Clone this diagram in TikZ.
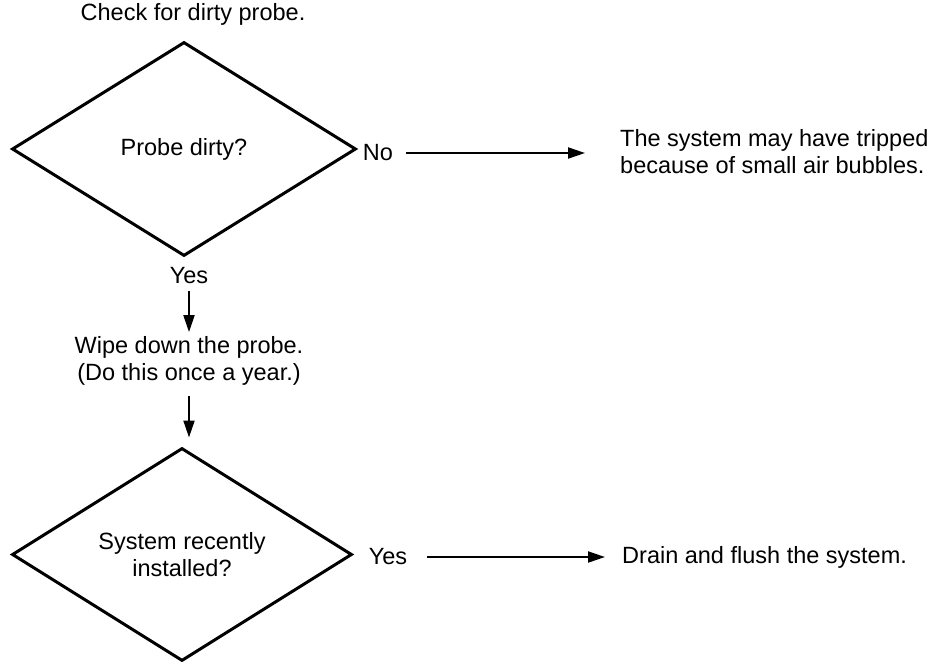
\documentclass[tikz,border=0pt]{standalone}
\usepackage{fontspec}
\setmainfont{Liberation Sans}
\usetikzlibrary{shapes.geometric,arrows.meta}

\begin{document}
\begin{tikzpicture}[x=1pt,y=-1pt,
  lbl/.style={inner sep=0pt,font=\fontsize{23.5}{27.5}\selectfont},
  decision/.style={diamond,draw,line width=3pt,inner sep=0pt,align=center,
    font=\fontsize{23.5}{27.5}\selectfont},
  flow/.style={line width=2pt,-{Triangle[length=17pt,width=11pt]}}]
  \useasboundingbox (0,0) rectangle (936,661);

  % first question
  \node[lbl] (check) at (193,14) {Check for dirty probe.};
  \node[decision,minimum width=344pt,minimum height=214pt] (dirty) at (184,149) {Probe dirty?};
  \node[lbl] (no) at (378,153) {No};
  \node[lbl,anchor=west,align=left] (bubbles) at (620,151.5)
    {The system may have tripped\\because of small air bubbles.};
  \node[lbl] (yes1) at (189,276) {Yes};

  % cleaning step
  \node[lbl,align=center] (wipe) at (189,361) {Wipe down the probe.\\(Do this once a year.)};

  % second question
  \node[decision,minimum width=340pt,minimum height=213pt] (recent) at (182,554.5)
    {System recently\\installed?};
  \node[lbl] (yes2) at (388,557) {Yes};
  \node[lbl,anchor=west] (drain) at (622,557) {Drain and flush the system.};

  % connectors
  \draw[flow,shorten <=13pt,shorten >=35pt] (no.east) -- (no.east -| bubbles.west);
  \draw[flow,shorten <=7pt,shorten >=4pt] (yes1.south) -- (wipe.north);
  \draw[flow,shorten <=10pt,shorten >=9pt] (wipe.south) -- (wipe.south |- recent.north);
  \draw[flow,shorten <=20pt,shorten >=17pt] (yes2.east) -- (drain.west);
\end{tikzpicture}
\end{document}
